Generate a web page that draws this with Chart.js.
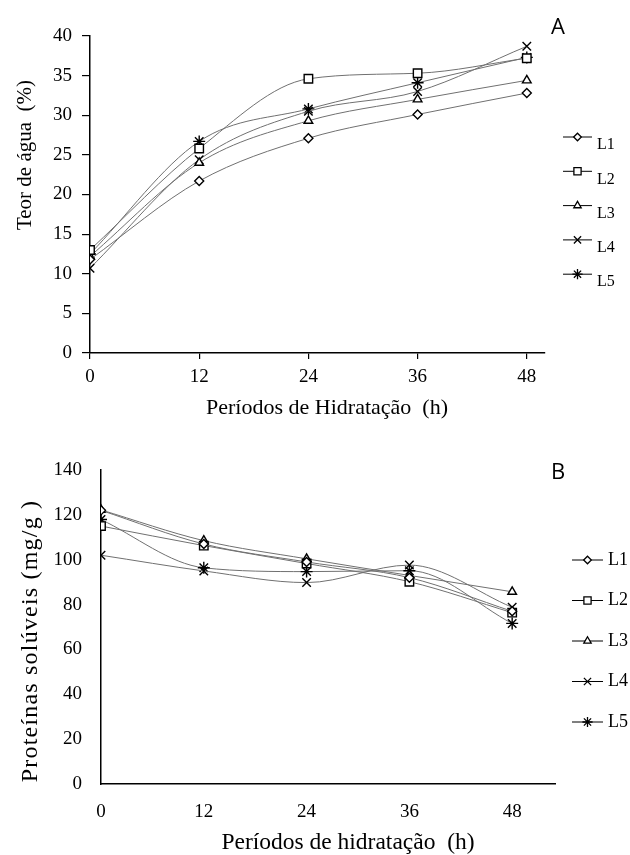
<!DOCTYPE html>
<html>
<head>
<meta charset="utf-8">
<script src="https://cdn.jsdelivr.net/npm/chart.js@4/dist/chart.umd.min.js"></script>
<style>
  body { margin: 0; background: #fff; }
  canvas { display: block; }
</style>
</head>
<body>
<canvas id="waterChart" width="630" height="430"></canvas>
<canvas id="proteinChart" width="630" height="425"></canvas>
<script>
// shared x values and series names
const hours = [0, 12, 24, 36, 48];
const lots = ['L1', 'L2', 'L3', 'L4', 'L5'];

// A - Teor de água (%)
const waterL1 = [11.8, 21.7, 27.1, 30.1, 32.8];
const waterL2 = [13.0, 25.8, 34.6, 35.3, 37.2];
const waterL3 = [12.2, 24.0, 29.3, 32.0, 34.4];
const waterL4 = [10.7, 24.4, 30.5, 33.0, 38.7];
const waterL5 = [12.5, 26.7, 30.8, 34.1, 37.3];

// B - Proteínas solúveis (mg/g)
const protL1 = [122.0, 107.0, 99.0, 92.0, 77.0];
const protL2 = [115.0, 106.3, 98.3, 90.2, 76.4];
const protL3 = [122.2, 108.5, 100.4, 93.0, 85.7];
const protL4 = [102.0, 95.0, 89.8, 97.6, 78.8];
const protL5 = [117.9, 96.4, 94.7, 95.1, 71.6];

const markers = ['rectRot', 'rect', 'triangle', 'crossRot', 'star'];
const markerSize = [4.5, 6, 5, 6, 6];

const serif = '"Liberation Serif", "Times New Roman", serif';

function makeDatasets(series) {
    return series.map((vals, i) => ({
        label: lots[i],
        data: hours.map((h, j) => ({ x: h, y: vals[j] })),
        borderColor: '#707070',
        borderWidth: 1,
        cubicInterpolationMode: 'monotone',
        pointStyle: markers[i],
        pointRadius: markerSize[i],
        pointBackgroundColor: '#fff',
        pointBorderColor: '#000',
        pointBorderWidth: 1.4
    }));
}

// titles, panel letter and line+marker legend
const decor = {
    id: 'decor',
    afterDraw(chart, args, o) {
        const ctx = chart.ctx;
        ctx.save();
        ctx.fillStyle = '#000';
        ctx.textAlign = 'center';
        ctx.textBaseline = 'middle';

        ctx.font = '22px "Open Sans", "Liberation Sans", sans-serif';
        ctx.fillText(o.letter, o.letterX, o.letterY);

        ctx.font = o.titleSize + 'px ' + serif;
        ctx.fillText(o.xTitle, o.xTitleX, o.xTitleY);

        ctx.save();
        ctx.font = o.yTitleSize + 'px ' + serif;
        ctx.letterSpacing = o.yTitleSpacing || '0px';
        ctx.translate(o.yTitleX, o.yTitleY);
        ctx.rotate(-Math.PI / 2);
        ctx.fillText(o.yTitle, 0, 0);
        ctx.restore();

        ctx.font = o.legSize + 'px ' + serif;
        ctx.textAlign = 'left';
        chart.data.datasets.forEach((ds, i) => {
            const y = o.legY + i * o.legGap;
            ctx.strokeStyle = '#000';
            ctx.lineWidth = 1;
            ctx.beginPath();
            ctx.moveTo(o.legX0, y);
            ctx.lineTo(o.legX1, y);
            ctx.stroke();
            ctx.fillStyle = '#fff';
            ctx.lineWidth = 1.3;
            Chart.helpers.drawPoint(ctx, {
                pointStyle: ds.pointStyle,
                radius: ds.pointRadius * 0.85,
                borderWidth: 1.3,
                rotation: 0
            }, (o.legX0 + o.legX1) / 2, y);
            ctx.fillStyle = '#000';
            ctx.fillText(ds.label, o.legTextX, y + o.legTextDy);
        });
        ctx.restore();
    }
};

function baseOptions(cfg) {
    return {
        responsive: false,
        animation: false,
        layout: { padding: { left: 0, top: cfg.top, right: cfg.right, bottom: 0 } },
        plugins: {
            legend: { display: false },
            tooltip: { enabled: false },
            decor: cfg.decor
        },
        scales: {
            x: {
                type: 'linear',
                min: 0,
                max: cfg.xMax,
                afterBuildTicks: s => { s.ticks = hours.map(v => ({ value: v })); },
                afterFit: s => { s.height = cfg.canvasH - cfg.bottom; },
                grid: cfg.xGrid,
                border: { color: '#000', width: 1.5 },
                ticks: { color: '#000', font: { family: serif, size: 19 }, padding: cfg.xPad, maxRotation: 0 }
            },
            y: {
                min: 0,
                max: cfg.yMax,
                ticks: { stepSize: cfg.yStep, color: '#000', font: { family: serif, size: 19 }, padding: cfg.yPad },
                afterFit: s => { s.width = cfg.left; },
                grid: cfg.yGrid,
                border: { color: '#000', width: 1.5 }
            }
        }
    };
}

const tickGrid = len => ({ drawOnChartArea: false, drawTicks: true, tickLength: len, color: '#000', lineWidth: 1.2 });
const noGrid = { display: false, drawTicks: false };

new Chart(document.getElementById('waterChart'), {
    type: 'line',
    data: { datasets: makeDatasets([waterL1, waterL2, waterL3, waterL4, waterL5]) },
    options: baseOptions({
        canvasH: 430, top: 36, bottom: 353, left: 90, right: 85,
        xMax: 50, yMax: 40, yStep: 5, xPad: 7, yPad: 10,
        xGrid: tickGrid(6), yGrid: tickGrid(8),
        decor: {
            letter: 'A', letterX: 558, letterY: 28,
            xTitle: 'Períodos de Hidratação  (h)', xTitleX: 327, xTitleY: 408, titleSize: 22,
            yTitle: 'Teor de água  (%)', yTitleX: 25, yTitleY: 155, yTitleSize: 21,
            legY: 137, legGap: 34.3, legX0: 563, legX1: 592, legTextX: 597, legTextDy: 8, legSize: 16
        }
    }),
    plugins: [decor]
});

new Chart(document.getElementById('proteinChart'), {
    type: 'line',
    data: { datasets: makeDatasets([protL1, protL2, protL3, protL4, protL5]) },
    options: baseOptions({
        canvasH: 425, top: 40, bottom: 354, left: 101, right: 75,
        xMax: 53, yMax: 140, yStep: 20, xPad: 17, yPad: 19,
        xGrid: noGrid, yGrid: noGrid,
        decor: {
            letter: 'B', letterX: 558, letterY: 43,
            xTitle: 'Períodos de hidratação  (h)', xTitleX: 348, xTitleY: 413, titleSize: 23.5,
            yTitle: 'Proteínas solúveis (mg/g )', yTitleX: 31, yTitleY: 211, yTitleSize: 24, yTitleSpacing: '1.2px',
            legY: 130, legGap: 40.5, legX0: 572, legX1: 603, legTextX: 608, legTextDy: 0, legSize: 18
        }
    }),
    plugins: [decor]
});
</script>
</body>
</html>
